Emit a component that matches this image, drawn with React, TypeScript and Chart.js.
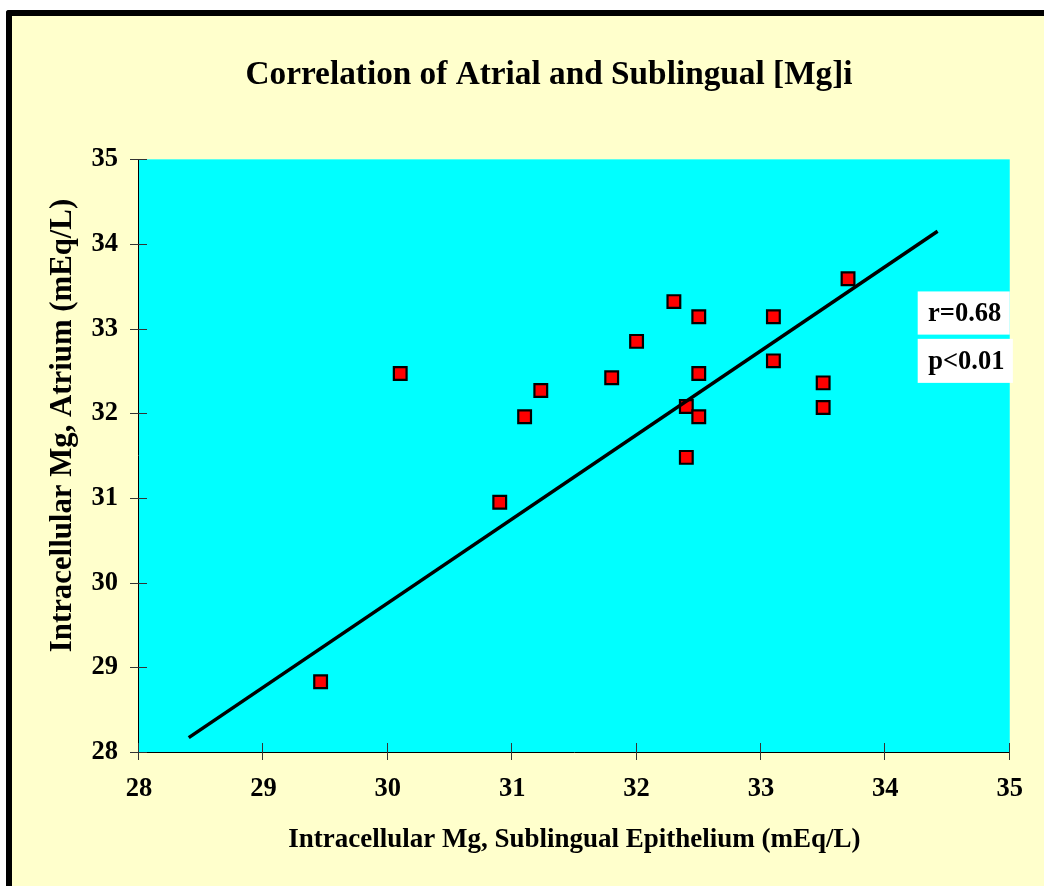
import React, { useEffect, useRef } from "react";
import { Chart, registerables } from "chart.js";

Chart.register(...registerables);

// ---- data ----
const sublingualMg = [29.46, 30.1, 30.9, 31.1, 31.23, 31.8, 32.0, 32.3, 32.5, 32.5, 32.4, 32.5, 32.4, 33.1, 33.1, 33.5, 33.5, 33.7];
const atrialMg = [28.83, 32.47, 30.95, 31.96, 32.27, 32.42, 32.85, 33.32, 33.14, 32.47, 32.08, 31.96, 31.48, 33.14, 32.62, 32.36, 32.07, 33.59];
const trendX = [28.4, 34.42];
const trendY = [28.17, 34.15];
const xTickValues = [28, 29, 30, 31, 32, 33, 34, 35];
const yTickValues = [28, 29, 30, 31, 32, 33, 34, 35];
const statsLabels = ["r=0.68", "p<0.01"];

const TITLE = "Correlation of Atrial and Sublingual [Mg]i";
const X_TITLE = "Intracellular Mg, Sublingual Epithelium (mEq/L)";
const Y_TITLE = "Intracellular Mg, Atrium (mEq/L)";

const SERIF = "'Times New Roman', 'Liberation Serif', serif";

const decorPlugin = {
  id: "decor",
  afterLayout(chart: any) {
    const tb = chart.titleBlock;
    if (tb) {
      const w = tb.right - tb.left;
      const c = 549;
      tb.left = c - w / 2;
      tb.right = c + w / 2;
    }
  },
  beforeDraw(chart: any) {
    const { ctx, chartArea } = chart;
    const { left, top, right, bottom } = chartArea;
    ctx.save();
    ctx.fillStyle = "#00FFFF";
    ctx.fillRect(left, top, right - left, bottom - top);
    ctx.restore();
  },
  beforeDatasetsDraw(chart: any) {
    const { ctx, chartArea, scales } = chart;
    const { left, top, right, bottom } = chartArea;
    const xs = scales.x;
    const ys = scales.y;
    ctx.save();
    ctx.strokeStyle = "#000";
    ctx.lineWidth = 1;
    // axis lines
    ctx.beginPath();
    ctx.moveTo(Math.round(left) - 0.5, top);
    ctx.lineTo(Math.round(left) - 0.5, bottom);
    ctx.moveTo(left, Math.round(bottom) + 0.5);
    ctx.lineTo(right, Math.round(bottom) + 0.5);
    ctx.stroke();
    // tick marks crossing the axes
    ctx.strokeStyle = "#333";
    ctx.beginPath();
    yTickValues.forEach((v) => {
      const y = Math.round(ys.getPixelForValue(v)) + 0.5;
      ctx.moveTo(left - 9, y);
      ctx.lineTo(left + 8, y);
    });
    xTickValues.forEach((v) => {
      const x = Math.round(xs.getPixelForValue(v)) - 0.5;
      ctx.moveTo(x, bottom - 9);
      ctx.lineTo(x, bottom + 8);
    });
    ctx.stroke();
    ctx.restore();
  },
  afterDraw(chart: any) {
    const { ctx, scales } = chart;
    const xs = scales.x;
    const ys = scales.y;
    // y-axis title (placed as in the reference, slightly above the plot's centre)
    ctx.save();
    ctx.translate(63.5, 425.5);
    ctx.rotate(-Math.PI / 2);
    ctx.font = `bold 30.8px ${SERIF}`;
    ctx.fillStyle = "#000";
    ctx.textAlign = "center";
    ctx.textBaseline = "middle";
    ctx.fillText(Y_TITLE, 0, 0);
    ctx.restore();

    const boxes = [
      { x0: 34.26, x1: 35.0, y0: 33.44, y1: 32.93 },
      { x0: 34.26, x1: 35.025, y0: 32.88, y1: 32.36 },
    ];
    ctx.save();
    ctx.font = `bold 26.5px ${SERIF}`;
    ctx.textAlign = "center";
    ctx.textBaseline = "middle";
    boxes.forEach((b, i) => {
      const px0 = xs.getPixelForValue(b.x0);
      const px1 = xs.getPixelForValue(b.x1);
      const py0 = ys.getPixelForValue(b.y0);
      const py1 = ys.getPixelForValue(b.y1);
      ctx.fillStyle = "#FFFFFF";
      ctx.fillRect(px0, py0, px1 - px0, py1 - py0);
      ctx.fillStyle = "#000";
      ctx.fillText(statsLabels[i], (px0 + px1) / 2 + 1, (py0 + py1) / 2 + 1);
    });
    ctx.restore();
  },
};

export default function App() {
  const canvasRef = useRef<HTMLCanvasElement | null>(null);

  useEffect(() => {
    const canvas = canvasRef.current;
    if (!canvas) return;
    const points = sublingualMg.map((x, i) => ({ x, y: atrialMg[i] }));
    const trend = trendX.map((x, i) => ({ x, y: trendY[i] }));
    const tickFont = { family: SERIF, size: 26.5, weight: "bold" as const };
    const chart = new Chart(canvas, {
      type: "scatter",
      data: {
        datasets: [
          {
            label: "Trend",
            data: trend,
            showLine: true,
            borderColor: "#000",
            borderWidth: 3.5,
            pointRadius: 0,
            fill: false,
          },
          {
            label: "Mg",
            data: points,
            pointStyle: "rect",
            pointRadius: 9,
            pointHoverRadius: 9,
            backgroundColor: "#FF0000",
            borderColor: "#000",
            pointBorderWidth: 2.2,
            borderWidth: 2.2,
          },
        ],
      },
      options: {
        animation: false,
        responsive: false,
        maintainAspectRatio: false,
        layout: { padding: { left: 0, right: 33, top: 0, bottom: 0 } },
        plugins: {
          legend: { display: false },
          tooltip: { enabled: false },
          title: {
            display: true,
            text: TITLE,
            color: "#000",
            font: { family: SERIF, size: 33.3, weight: "bold" },
            padding: { top: 55, bottom: 64.4 },
          },
        },
        scales: {
          x: {
            type: "linear",
            min: 28,
            max: 35,
            afterBuildTicks: (s: any) => {
              s.ticks = xTickValues.map((v) => ({ value: v }));
            },
            afterFit: (s: any) => {
              s.height = 134;
            },
            grid: { display: false, drawTicks: false },
            border: { display: false },
            ticks: { color: "#000", font: tickFont, padding: 21 },
            title: {
              display: true,
              text: X_TITLE,
              color: "#000",
              font: { family: SERIF, size: 27, weight: "bold" },
              padding: { top: 0, bottom: 30 },
            },
          },
          y: {
            type: "linear",
            min: 28,
            max: 35,
            afterBuildTicks: (s: any) => {
              s.ticks = yTickValues.map((v) => ({ value: v }));
            },
            afterFit: (s: any) => {
              s.width = 139;
            },
            grid: { display: false, drawTicks: false },
            border: { display: false },
            ticks: { color: "#000", font: tickFont, padding: 21 },
            title: { display: false, text: Y_TITLE },
          },
        },
      },
      plugins: [decorPlugin],
    });
    return () => chart.destroy();
  }, []);

  return (
    <div
      style={{
        position: "fixed",
        left: 0,
        top: 0,
        width: 1044,
        height: 886,
        background: "#FFFFFF",
        overflow: "hidden",
      }}
    >
      <div
        style={{
          position: "absolute",
          left: 6,
          top: 10,
          width: 1100,
          height: 940,
          background: "#FFFFCC",
          borderLeft: "6px solid #000",
          borderTop: "6px solid #000",
          borderTopLeftRadius: 3,
          boxSizing: "border-box",
        }}
      />
      <canvas
        ref={canvasRef}
        width={1044}
        height={886}
        style={{ position: "absolute", left: 0, top: 0, width: 1044, height: 886 }}
      />
    </div>
  );
}
